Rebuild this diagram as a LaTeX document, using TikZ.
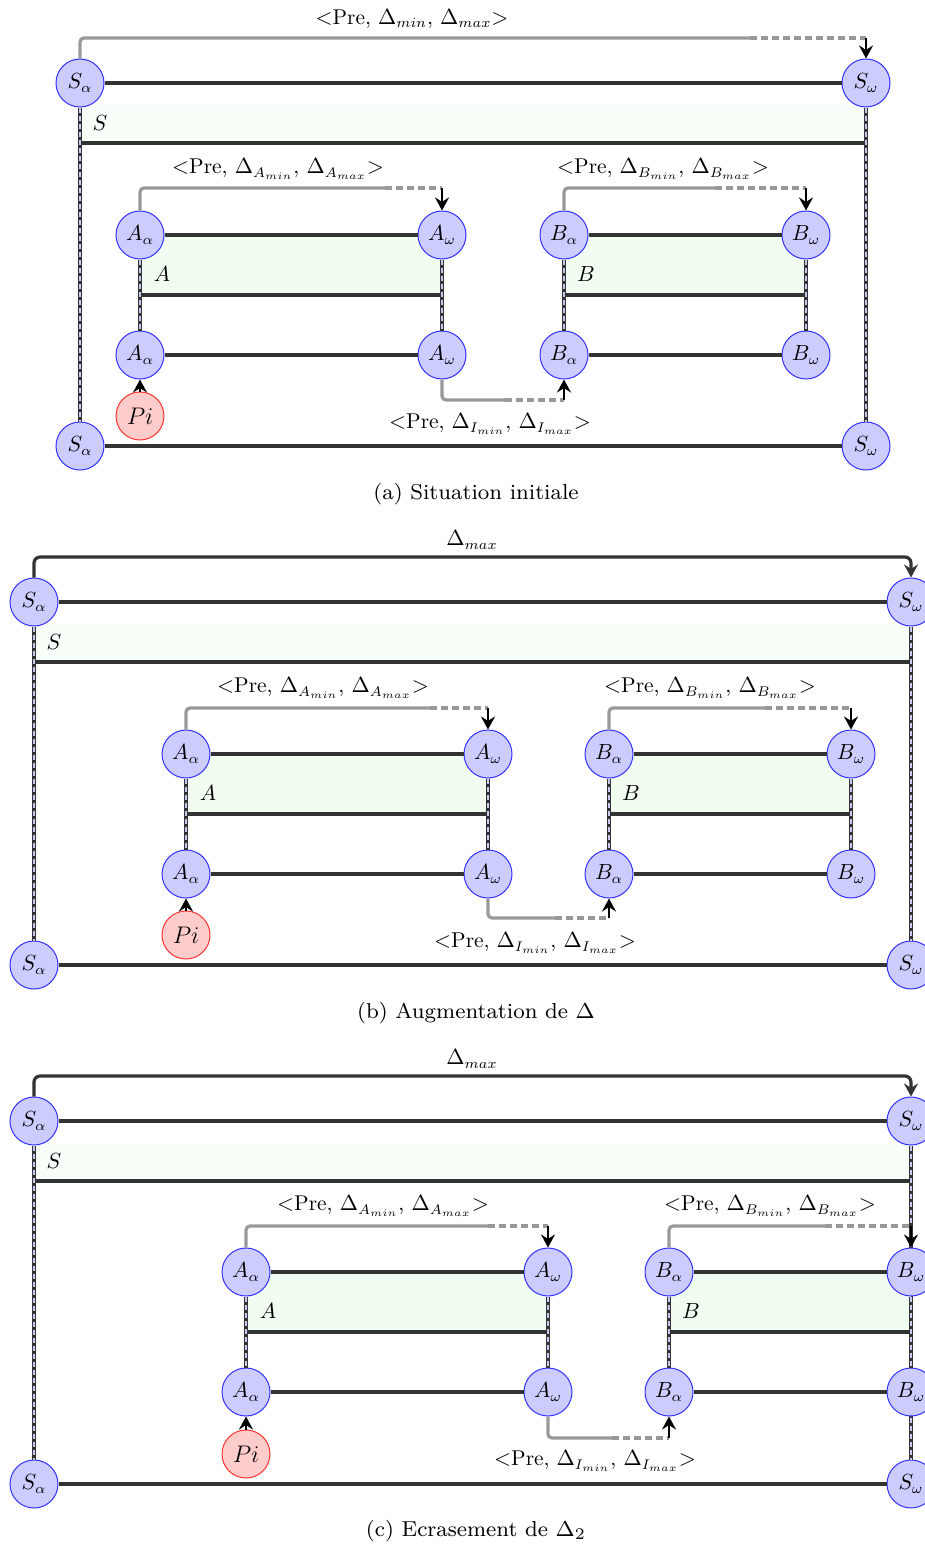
\documentclass[tikz,border=0pt]{standalone}
\usetikzlibrary{arrows.meta}
\definecolor{darkline}{RGB}{51,51,51}
\definecolor{grayline}{RGB}{153,153,153}
\definecolor{boxgreen}{RGB}{242,253,242}
\definecolor{sgreen}{RGB}{248,254,248}
\definecolor{nodefill}{RGB}{204,204,255}
\definecolor{nodeedge}{RGB}{51,51,255}
\definecolor{pifill}{RGB}{255,204,204}
\definecolor{piedge}{RGB}{255,51,51}
\definecolor{dashlite}{RGB}{200,200,240}
\tikzset{
 st/.style={circle, draw=nodeedge, fill=nodefill, line width=0.5pt, minimum size=24pt, inner sep=0pt, font=\fontsize{10.5}{12}\selectfont},
 pinode/.style={circle, draw=piedge, fill=pifill, line width=0.5pt, minimum size=24pt, inner sep=0pt, font=\fontsize{11.5}{13}\selectfont},
 hline/.style={draw=darkline, line width=1.8pt},
 vline/.style={draw=darkline, line width=1.8pt, postaction={draw=dashlite, line width=0.6pt, dash pattern=on 2.5pt off 1.5pt}},
 boxfill/.style={fill=boxgreen},
 sfill/.style={fill=sgreen},
 garr/.style={draw=grayline, line width=1.6pt, rounded corners=2pt},
 gdash/.style={draw=grayline, line width=1.6pt, dash pattern=on 3.5pt off 2pt},
 karr/.style={draw=black, line width=1.4pt, -{Stealth[length=6.5pt,width=7pt,inset=2.2pt]}},
 kroute/.style={draw=darkline, line width=1.6pt, rounded corners=3pt, -{Stealth[length=6.5pt,width=7pt,inset=2.2pt]}},
 lbl/.style={inner sep=0pt, font=\fontsize{10.7}{13}\selectfont},
 capt/.style={scale=1.35, font=\fontsize{8}{9}\selectfont, inner sep=0pt},
}
% #1 prefix, #2 letter, #3 xl, #4 xr, #5 ytop
\newcommand\blk[5]{%
 \fill[boxfill] (#3,#5) rectangle (#4,#5+60);
 \node[st] (#1a1) at (#3,#5) {$#2_\alpha$};
 \node[st] (#1w1) at (#4,#5) {$#2_\omega$};
 \node[st] (#1a2) at (#3,#5+120) {$#2_\alpha$};
 \node[st] (#1w2) at (#4,#5+120) {$#2_\omega$};
 \draw[hline] (#1a1) -- (#1w1);
 \draw[hline] (#3,#5+60) -- (#4,#5+60);
 \draw[hline] (#1a2) -- (#1w2);
 \draw[vline] (#1a1) -- (#1a2);
 \draw[vline] (#1w1) -- (#1w2);
 \node[lbl] at (#3+22,#5+39) {$#2$};
}
% #1 prefix, #2 xl, #3 xr
\newcommand\sfrm[3]{%
 \fill[sfill] (#2,105) rectangle (#3,143);
 \node[st] (#1Sa1) at (#2,83) {$S_\alpha$};
 \node[st] (#1Sw1) at (#3,83) {$S_\omega$};
 \node[st] (#1Sa2) at (#2,446) {$S_\alpha$};
 \node[st] (#1Sw2) at (#3,446) {$S_\omega$};
 \draw[hline] (#1Sa1) -- (#1Sw1);
 \draw[hline] (#2,143) -- (#3,143);
 \draw[hline] (#1Sa2) -- (#1Sw2);
 \draw[vline] (#1Sa1) -- (#1Sa2);
 \draw[vline] (#1Sw1) -- (#1Sw2);
 \node[lbl] at (#2+20,123) {$S$};
}
% gray route: #1 prefix, #2 from node, #3 to node, #4 dash x, #5 end x, #6 y
\newcommand\groute[6]{%
 \coordinate (#1g1) at (#4,#6);
 \coordinate (#1g2) at (#5,#6);
 \draw[garr] (#2) |- (#1g1);
 \draw[gdash] (#1g1) -- (#1g2);
 \draw[karr] (#1g2) -- (#3);
}
\begin{document}
\begin{tikzpicture}[x=0.5pt,y=-0.5pt]
\useasboundingbox (0,0) rectangle (925,1547);
% ---------------- (a)
\begin{scope}
 \sfrm{a}{80}{866}
 \blk{aA}{A}{140}{442}{235}
 \blk{aB}{B}{564}{806}{235}
 \node[pinode] (aPi) at (140,416) {$Pi$};
 \draw[karr] (aPi) -- (aAa2);
 \groute{aT}{aSa1}{aSw1}{750}{866}{38}
 \node[lbl] at (412,19) {$<$Pre, $\Delta_{min}$, $\Delta_{max}$$>$};
 \groute{aGA}{aAa1}{aAw1}{385}{442}{188}
 \node[lbl] at (278,169) {$<$Pre, $\Delta_{A_{min}}$, $\Delta_{A_{max}}$$>$};
 \groute{aGB}{aBa1}{aBw1}{715}{806}{188}
 \node[lbl] at (663,169) {$<$Pre, $\Delta_{B_{min}}$, $\Delta_{B_{max}}$$>$};
 \groute{aGI}{aAw2}{aBa2}{505}{564}{400}
 \node[lbl] at (490,424) {$<$Pre, $\Delta_{I_{min}}$, $\Delta_{I_{max}}$$>$};
 \node[capt] (capa) at (476,494) {(a) Situation initiale};
\end{scope}
% ---------------- (b)
\begin{scope}[shift={(0,519)}]
 \sfrm{b}{34}{911}
 \blk{bA}{A}{186}{488}{235}
 \blk{bB}{B}{609}{851}{235}
 \node[pinode] (bPi) at (186,416) {$Pi$};
 \draw[karr] (bPi) -- (bAa2);
 \coordinate (bT) at (911,38);
 \draw[kroute] (bSa1) |- (bT) -- (bSw1);
 \node[lbl] at (472,21) {$\Delta_{max}$};
 \groute{bGA}{bAa1}{bAw1}{430}{488}{189}
 \node[lbl] at (323,169) {$<$Pre, $\Delta_{A_{min}}$, $\Delta_{A_{max}}$$>$};
 \groute{bGB}{bBa1}{bBw1}{765}{851}{189}
 \node[lbl] at (710,169) {$<$Pre, $\Delta_{B_{min}}$, $\Delta_{B_{max}}$$>$};
 \groute{bGI}{bAw2}{bBa2}{555}{609}{399}
 \node[lbl] at (535,424) {$<$Pre, $\Delta_{I_{min}}$, $\Delta_{I_{max}}$$>$};
 \node[capt] (capb) at (476,494) {(b) Augmentation de $\Delta$};
\end{scope}
% ---------------- (c)
\begin{scope}[shift={(0,1038)}]
 \sfrm{c}{34}{911}
 \blk{cA}{A}{246}{548}{234}
 \blk{cB}{B}{669}{911}{234}
 \node[pinode] (cPi) at (246,416) {$Pi$};
 \draw[karr] (cPi) -- (cAa2);
 \coordinate (cT) at (911,38);
 \draw[kroute] (cSa1) |- (cT) -- (cSw1);
 \node[lbl] at (472,21) {$\Delta_{max}$};
 \groute{cGA}{cAa1}{cAw1}{488}{548}{188}
 \node[lbl] at (383,168) {$<$Pre, $\Delta_{A_{min}}$, $\Delta_{A_{max}}$$>$};
 \groute{cGB}{cBa1}{cBw1}{825}{911}{188}
 \node[lbl] at (770,168) {$<$Pre, $\Delta_{B_{min}}$, $\Delta_{B_{max}}$$>$};
 \groute{cGI}{cAw2}{cBa2}{612}{669}{400}
 \node[lbl] at (595,423) {$<$Pre, $\Delta_{I_{min}}$, $\Delta_{I_{max}}$$>$};
 \node[capt] (capc) at (476,493) {(c) Ecrasement de $\Delta_2$};
\end{scope}
\end{tikzpicture}
\end{document}
